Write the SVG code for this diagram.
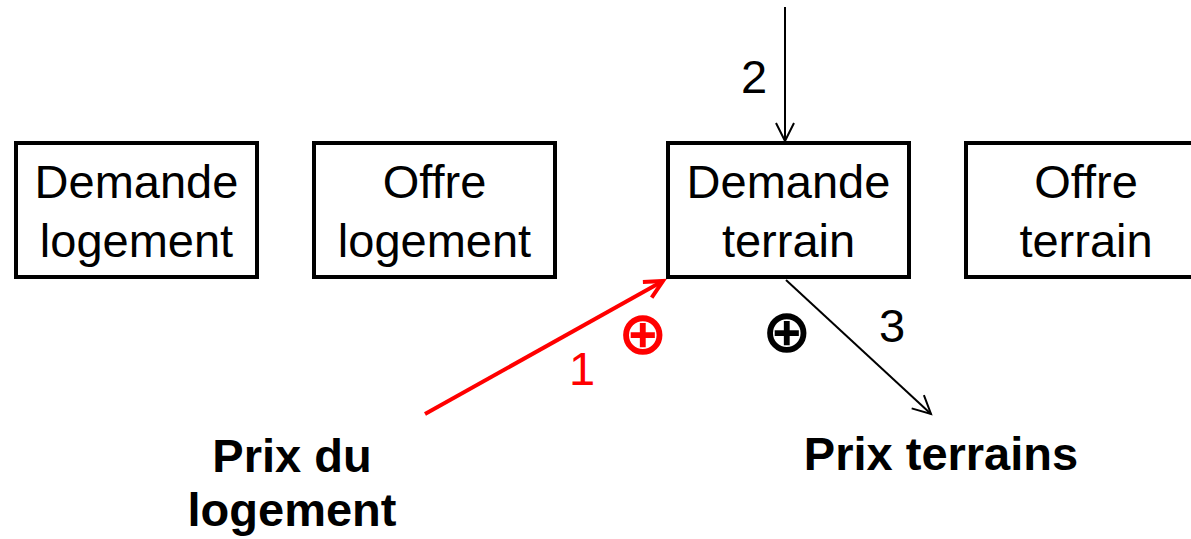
<svg xmlns="http://www.w3.org/2000/svg" width="1191" height="539" viewBox="0 0 1191 539">
<style>
.box{fill:#fff;stroke:#000;stroke-width:4}
.t{font-family:"Liberation Sans",Arial,sans-serif;font-size:47px;text-anchor:middle;fill:#000}
.b{font-weight:bold}
.sym{font-family:"DejaVu Sans",sans-serif;font-weight:bold;font-size:60px;text-anchor:middle;dominant-baseline:central}
</style>
<defs>
<marker id="ab" markerUnits="userSpaceOnUse" markerWidth="30" markerHeight="30" refX="20" refY="10" orient="auto" viewBox="0 0 30 20">
<path d="M2,1 L20,10 L2,19" fill="none" stroke="#000" stroke-width="2"/>
</marker>
<marker id="ar" markerUnits="userSpaceOnUse" markerWidth="30" markerHeight="30" refX="21" refY="10" orient="auto" viewBox="0 0 30 20">
<path d="M3,1 L21,10 L3,19" fill="none" stroke="#f00" stroke-width="4"/>
</marker>
</defs>
<rect width="1191" height="539" fill="#fff"/>
<g id="connectors">
<line x1="785" y1="7" x2="785" y2="141" stroke="#000" stroke-width="2" marker-end="url(#ab)"/>
<line x1="425" y1="414" x2="663" y2="281" stroke="#f00" stroke-width="4" marker-end="url(#ar)"/>
<line x1="786" y1="280" x2="931" y2="414" stroke="#000" stroke-width="2" marker-end="url(#ab)"/>
<text class="t" x="754" y="93">2</text>
<text class="t" x="582" y="385" fill="#f00" style="fill:#f00">1</text>
<text class="t" x="892" y="342">3</text>
<text class="sym" x="643" y="333" fill="#f00">⊕</text>
<text class="sym" x="787" y="331" fill="#000">⊕</text>
</g>
<g id="demande-logement">
<rect class="box" x="16" y="143" width="241" height="134"/>
<text class="t" x="136.5" y="198">Demande</text>
<text class="t" x="136.5" y="257">logement</text>
</g>
<g id="offre-logement">
<rect class="box" x="314" y="143" width="241" height="134"/>
<text class="t" x="434.5" y="198">Offre</text>
<text class="t" x="434.5" y="257">logement</text>
</g>
<g id="demande-terrain">
<rect class="box" x="668" y="143" width="241" height="134"/>
<text class="t" x="788.5" y="198">Demande</text>
<text class="t" x="788.5" y="257">terrain</text>
</g>
<g id="offre-terrain">
<rect class="box" x="966" y="143" width="241" height="134"/>
<text class="t" x="1086" y="198">Offre</text>
<text class="t" x="1086" y="257">terrain</text>
</g>
<g id="prix-logement">
<text class="t b" x="292" y="472">Prix du</text>
<text class="t b" x="292" y="526">logement</text>
</g>
<g id="prix-terrains">
<text class="t b" x="941" y="470">Prix terrains</text>
</g>
</svg>
